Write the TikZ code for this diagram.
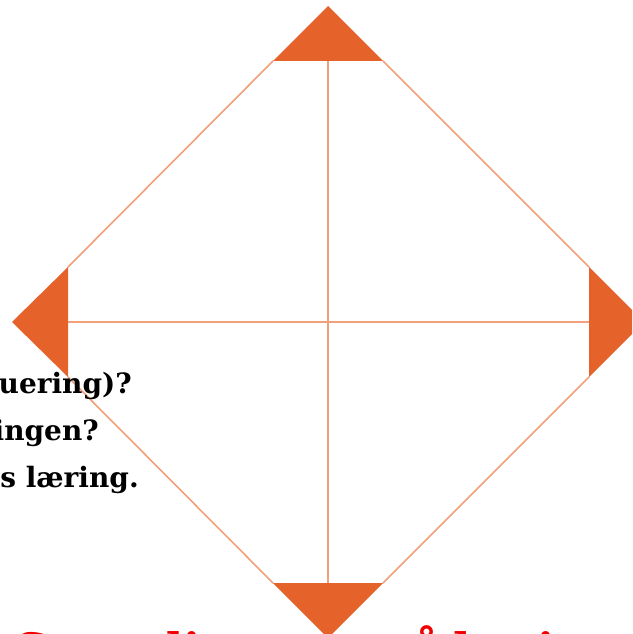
\documentclass[tikz,border=0pt]{standalone}
\usepackage{fontspec}
\setmainfont{DejaVu Serif}
\definecolor{tri}{HTML}{E5622B}
\definecolor{ln}{HTML}{F2A07C}
\definecolor{redtxt}{HTML}{F00000}
\begin{document}
\begin{tikzpicture}[x=1pt,y=-1pt,
  triangle/.style={fill=tri,draw=none},
  thinline/.style={draw=ln,line width=1.6pt},
  lefttext/.style={anchor=base east,font=\bfseries\fontsize{28}{28}\selectfont,inner sep=0pt},
  redbit/.style={anchor=base,text=redtxt,font=\bfseries\fontsize{46}{46}\selectfont,inner sep=0pt}]
\useasboundingbox (0,0) rectangle (632,634);
\clip (0,0) rectangle (632,634);
% corner points
\coordinate (T) at (328,6);
\coordinate (B) at (328,638);
\coordinate (L) at (12,322);
\coordinate (R) at (644,322);
\coordinate (TL) at (273,61);
\coordinate (TR) at (383,61);
\coordinate (BL) at (273,583);
\coordinate (BR) at (383,583);
\coordinate (LT) at (68,267);
\coordinate (LB) at (68,377);
\coordinate (RT) at (589,267);
\coordinate (RB) at (589,377);
\coordinate (TM) at (328,61);
\coordinate (BM) at (328,583);
\coordinate (LM) at (68,322);
\coordinate (RM) at (589,322);
% lines
\draw[thinline] (TL) -- (LT);
\draw[thinline] (TR) -- (RT);
\draw[thinline] (LB) -- (BL);
\draw[thinline] (RB) -- (BR);
\draw[thinline] (TM) -- (BM);
\draw[thinline] (LM) -- (RM);
% triangles
\fill[triangle] (T) -- (TR) -- (TL) -- cycle;
\fill[triangle] (B) -- (BR) -- (BL) -- cycle;
\fill[triangle] (L) -- (LT) -- (LB) -- cycle;
\fill[triangle] (R) -- (RT) -- (RB) -- cycle;
% left text
\node[lefttext] (t1) at (132,393) {uering)?};
\node[lefttext] (t2) at (99,440) {ingen?};
\node[lefttext] (t3) at (139,487) {s læring.};
% red bottom text (mostly cut off)
\node[redbit] (r1) at (32,666) {S};
\node[redbit] (r2) at (176,666) {di};
\node[redbit] (r3) at (428,666) {å};
\node[redbit] (r4) at (462,666) {l};
\node[redbit] (r5) at (546,666) {i};
\end{tikzpicture}
\end{document}
